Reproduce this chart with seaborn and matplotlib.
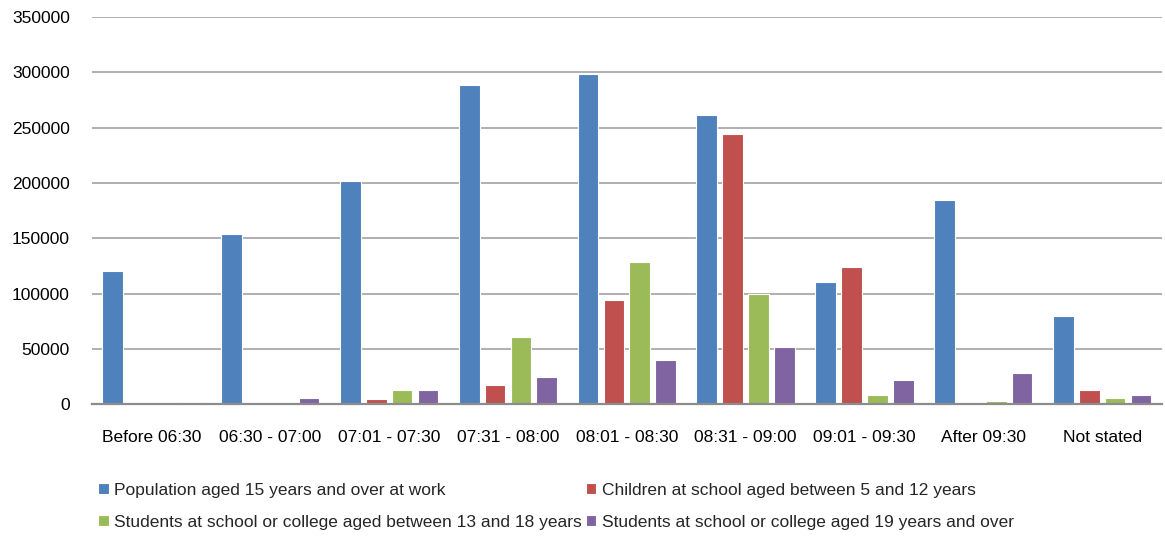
import matplotlib
matplotlib.use("Agg")
import matplotlib.pyplot as plt
import pandas as pd
import seaborn as sns

# Data
time_slots = ["Before 06:30", "06:30 - 07:00", "07:01 - 07:30", "07:31 - 08:00",
              "08:01 - 08:30", "08:31 - 09:00", "09:01 - 09:30", "After 09:30",
              "Not stated"]
series_names = ["Population aged 15 years and over at work",
                "Children at school aged between 5 and 12 years",
                "Students at school or college aged between 13 and 18 years",
                "Students at school or college aged 19 years and over"]
workers = [120000, 154000, 202000, 289000, 299000, 261500, 110500, 184500, 80000]
children = [0, 0, 4500, 17500, 94500, 244000, 123700, 0, 12600]
students_13_18 = [0, 1800, 12600, 61000, 128500, 99600, 8400, 3000, 5700]
students_19_plus = [1800, 5700, 12600, 24400, 40000, 51800, 22000, 28300, 8400]
colors = ["#4F81BD", "#C0504D", "#9BBB59", "#8064A2"]

rows = []
for name, vals in zip(series_names, [workers, children, students_13_18, students_19_plus]):
    for slot, v in zip(time_slots, vals):
        rows.append({"slot": slot, "series": name, "value": v})
df = pd.DataFrame(rows)

sns.set_style("white")
plt.rcParams["font.family"] = ["Liberation Sans", "DejaVu Sans"]

fig = plt.figure(figsize=(11.65, 5.38), dpi=100)
ax = fig.add_axes([0.079, 0.249, 0.918, 0.719])

sns.barplot(data=df, x="slot", y="value", hue="series", order=time_slots,
            hue_order=series_names, palette=colors, saturation=1,
            width=0.87, gap=0.2, edgecolor="white", linewidth=0.8,
            errorbar=None, ax=ax)

ax.set_ylim(0, 350000)
ax.set_yticks(range(0, 350001, 50000))
ax.set_xlim(-0.5, len(time_slots) - 0.5)
ax.yaxis.grid(True, color="#9a9a9a", linewidth=1.1)
ax.set_axisbelow(True)
ax.set_xlabel("")
ax.set_ylabel("")
for side in ["top", "right", "left"]:
    ax.spines[side].set_visible(False)
ax.spines["bottom"].set_color("#8c8c8c")
ax.spines["bottom"].set_linewidth(1.6)
ax.tick_params(axis="both", length=0, labelsize=12.5, colors="black")
ax.tick_params(axis="x", pad=19)
ax.tick_params(axis="y", pad=16)

handles, labels = ax.get_legend_handles_labels()
ax.get_legend().remove()
order = [0, 2, 1, 3]
fig.legend([handles[i] for i in order], [labels[i] for i in order],
           loc="lower left", bbox_to_anchor=(0.071, -0.014), ncol=2, frameon=False,
           handlelength=0.62, handleheight=0.62, handletextpad=0.3,
           columnspacing=0.2, labelspacing=1.0,
           prop={"family": "Liberation Sans", "size": 12.5})

fig.savefig("out.png", dpi=100)
